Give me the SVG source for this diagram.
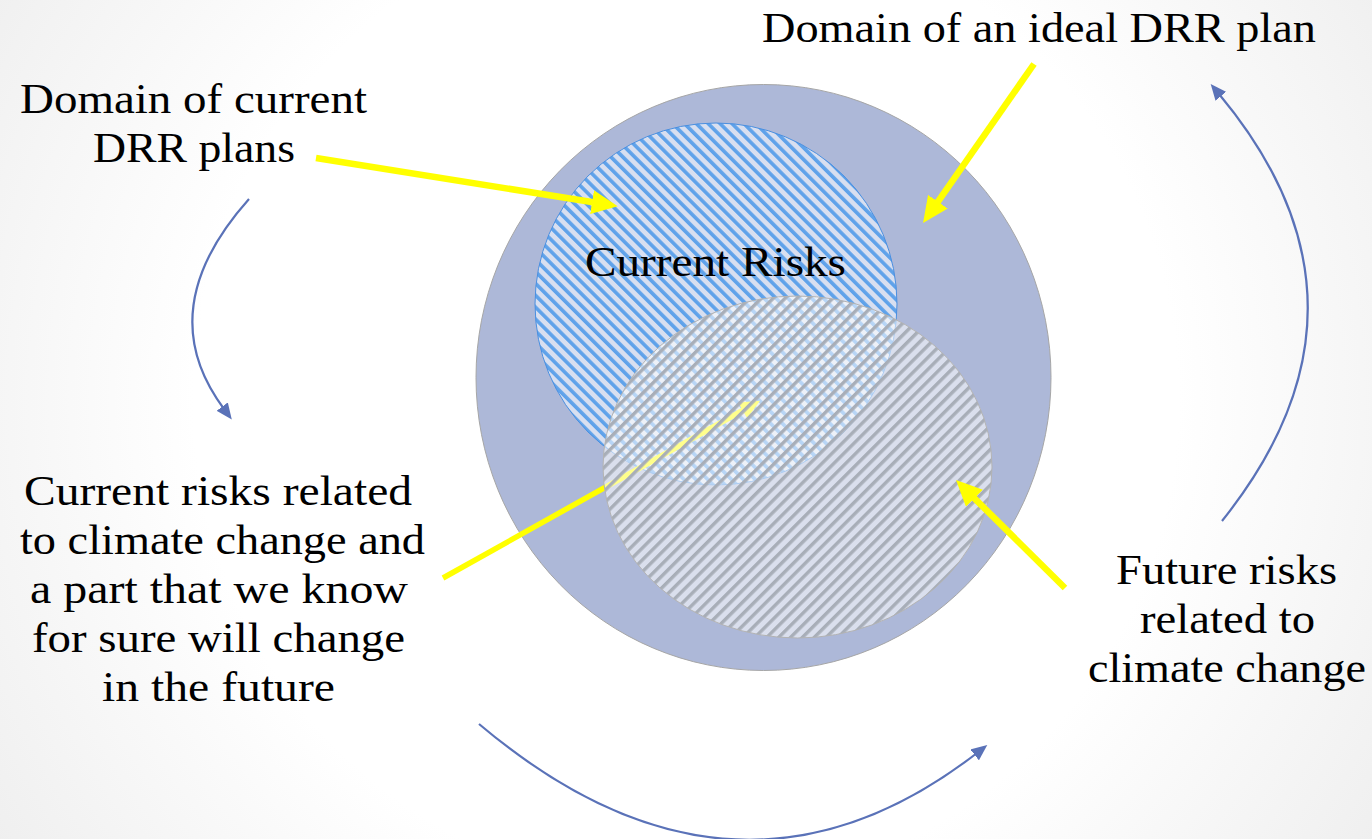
<svg xmlns="http://www.w3.org/2000/svg" width="1372" height="839" viewBox="0 0 1372 839">
  <defs>
    <radialGradient id="bg" cx="686" cy="400" r="820" gradientUnits="userSpaceOnUse">
      <stop offset="0.6" stop-color="#ffffff"/>
      <stop offset="1" stop-color="#efefef"/>
    </radialGradient>
    <pattern id="blueHatch" patternUnits="userSpaceOnUse" width="8.4" height="8.4" patternTransform="rotate(-45)">
      <rect x="0" y="0" width="8.4" height="8.4" fill="#d8dff0"/>
      <rect x="0" y="0" width="3.6" height="8.4" fill="#5fa2ea"/>
    </pattern>
    <pattern id="grayHatch" patternUnits="userSpaceOnUse" width="8.4" height="8.4" patternTransform="rotate(45)">
      <rect x="0" y="0" width="8.4" height="8.4" fill="#ffffff" fill-opacity="0.55"/>
      <rect x="0" y="0" width="3.4" height="8.4" fill="#a8aeb8"/>
    </pattern>
    <marker id="yHead" markerUnits="userSpaceOnUse" viewBox="0 0 26 24" markerWidth="26" markerHeight="24" refX="6" refY="12" orient="auto">
      <path d="M0,0 L26,12 L0,24 z" fill="#ffff00"/>
    </marker>
    <marker id="yHeadSmall" markerUnits="userSpaceOnUse" viewBox="0 0 20 18" markerWidth="20" markerHeight="18" refX="5" refY="9" orient="auto">
      <path d="M0,0 L20,9 L0,18 z" fill="#ffff00"/>
    </marker>
    <marker id="bHead" markerUnits="userSpaceOnUse" viewBox="0 0 16 14" markerWidth="16" markerHeight="14" refX="3" refY="7" orient="auto">
      <path d="M0,0 L16,7 L0,14 z" fill="#5a72b8"/>
    </marker>
  </defs>
  <style>
    .lbl { font-family: "Liberation Serif", "Times New Roman", serif; font-size: 42px; fill: #000000; }
    .yarrow { fill: none; stroke: #ffff00; stroke-width: 6.5; }
    .barrow { fill: none; stroke: #5a72b8; stroke-width: 2.2; }
  </style>

  <rect x="0" y="0" width="1372" height="839" fill="url(#bg)"/>

  <g id="ideal-domain">
    <ellipse cx="763.5" cy="377.5" rx="287.5" ry="293" fill="#adb8d8" stroke="#a6a6a6" stroke-width="1"/>
  </g>

  <g id="current-risks">
    <circle cx="716" cy="304" r="181" fill="url(#blueHatch)" stroke="#4a8fe0" stroke-width="1"/>
    <text class="lbl" x="585" y="276" textLength="261" lengthAdjust="spacingAndGlyphs">Current Risks</text>
  </g>

  <g id="connector-under">
    <path class="yarrow" d="M443,578 L747,408" style="stroke-width:5.5" marker-end="url(#yHeadSmall)"/>
  </g>

  <g id="future-risks-area">
    <ellipse cx="797.5" cy="467" rx="194.5" ry="171" fill="url(#grayHatch)" stroke="#b3b3b3" stroke-width="1"/>
  </g>

  <g id="connectors">
    <path class="yarrow" d="M316,158 L598,203" marker-end="url(#yHead)"/>
    <path class="yarrow" d="M1034,64 L934.5,206.6" marker-end="url(#yHead)"/>
    <path class="yarrow" d="M1065,588 L970.2,494.1" marker-end="url(#yHead)"/>
    <path class="barrow" d="M249,199 Q150,310 224,409" marker-end="url(#bHead)"/>
    <path class="barrow" d="M479,724 Q735,940 977,753" marker-end="url(#bHead)"/>
    <path class="barrow" d="M1222,521 Q1395,305 1219,94" marker-end="url(#bHead)"/>
  </g>

  <g id="label-ideal">
    <text class="lbl" x="762" y="42" textLength="554" lengthAdjust="spacingAndGlyphs">Domain of an ideal DRR plan</text>
  </g>
  <g id="label-current-plans">
    <text class="lbl" x="20" y="113" textLength="347" lengthAdjust="spacingAndGlyphs">Domain of current</text>
    <text class="lbl" x="93" y="162" textLength="202" lengthAdjust="spacingAndGlyphs">DRR plans</text>
  </g>
  <g id="label-current-climate">
    <text class="lbl" x="24" y="505" textLength="388" lengthAdjust="spacingAndGlyphs">Current risks related</text>
    <text class="lbl" x="20" y="554" textLength="405" lengthAdjust="spacingAndGlyphs">to climate change and</text>
    <text class="lbl" x="30" y="603" textLength="378" lengthAdjust="spacingAndGlyphs">a part that we know</text>
    <text class="lbl" x="32" y="652" textLength="373" lengthAdjust="spacingAndGlyphs">for sure will change</text>
    <text class="lbl" x="102" y="701" textLength="233" lengthAdjust="spacingAndGlyphs">in the future</text>
  </g>
  <g id="label-future">
    <text class="lbl" x="1116" y="584" textLength="221" lengthAdjust="spacingAndGlyphs">Future risks</text>
    <text class="lbl" x="1140" y="633" textLength="175" lengthAdjust="spacingAndGlyphs">related to</text>
    <text class="lbl" x="1088" y="682" textLength="278" lengthAdjust="spacingAndGlyphs">climate change</text>
  </g>
</svg>
